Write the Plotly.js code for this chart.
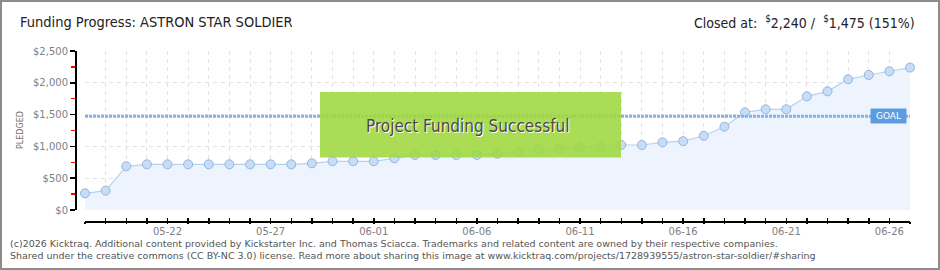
<!DOCTYPE html>
<html>
<head>
<meta charset="utf-8">
<script src="https://cdn.plot.ly/plotly-3.0.1.min.js"></script>
<style>
  html, body { margin: 0; padding: 0; background: #fff; }
  #wrap { position: relative; width: 940px; height: 270px; }
  #chart { width: 940px; height: 270px; }
  #frame { position: absolute; left: 0; top: 0; width: 940px; height: 270px; box-sizing: border-box; border: 2px solid #8c8c8c; pointer-events: none; }
</style>
</head>
<body>
<div id="wrap"><div id="chart"></div><div id="frame"></div></div>
<script>
// ---- data ----
const dates = [
  '2025-05-18','2025-05-19','2025-05-20','2025-05-21','2025-05-22','2025-05-23','2025-05-24',
  '2025-05-25','2025-05-26','2025-05-27','2025-05-28','2025-05-29','2025-05-30','2025-05-31',
  '2025-06-01','2025-06-02','2025-06-03','2025-06-04','2025-06-05','2025-06-06','2025-06-07',
  '2025-06-08','2025-06-09','2025-06-10','2025-06-11','2025-06-12','2025-06-13','2025-06-14',
  '2025-06-15','2025-06-16','2025-06-17','2025-06-18','2025-06-19','2025-06-20','2025-06-21',
  '2025-06-22','2025-06-23','2025-06-24','2025-06-25','2025-06-26','2025-06-27'
];
const pledged = [
  262, 304, 687, 718, 718, 718, 718,
  718, 718, 718, 718, 734, 766, 766,
  766, 813, 865, 865, 865, 865, 885,
  912, 954, 959, 990, 990, 1022, 1022,
  1064, 1082, 1168, 1310, 1536, 1583, 1583,
  1787, 1866, 2055, 2123, 2181, 2240
];
const goal = 1475;
const closedAt = 2240;
const projectName = 'ASTRON STAR SOLDIER';
const firstTick = '2025-05-22';
const yTickStep = 500;
const yMinorStep = 250;
const yMax = 2500;

// ---- layout helpers (pixel -> paper) ----
const W = 940, H = 270;
const M = { l: 75, r: 30, t: 51, b: 49 };
const PW = W - M.l - M.r, PH = H - M.t - M.b;
const px = x => (x - M.l) / PW;
const py = y => (H - M.b - y) / PH;

const DAY = 86400000;
const tickFont = { family: 'DejaVu Sans, Verdana, sans-serif', size: 10, color: '#808080' };
const gridCol = '#e2e2e2';
const headFont = 'DejaVu Sans Condensed, Liberation Sans Narrow, Roboto, sans-serif';

const pct = Math.floor(closedAt / goal * 100);
const fmt = v => v.toLocaleString('en-US');

const traces = [
  {
    x: dates, y: pledged, type: 'scatter', mode: 'lines+markers',
    fill: 'tozeroy', fillcolor: '#edf4fd',
    line: { color: '#b7d2f0', width: 1.2 },
    marker: { size: 9, color: '#c7ddf6', line: { color: '#94b5dc', width: 1 } },
    cliponaxis: false, hoverinfo: 'skip', showlegend: false
  },
  {
    x: [dates[0]], y: [null], xaxis: 'x2', yaxis: 'y', type: 'scatter', mode: 'markers',
    hoverinfo: 'skip', showlegend: false
  }
];

const xBase = {
  type: 'date', range: [dates[0], dates[dates.length - 1]],
  domain: [px(85), 1], anchor: 'free', position: 0,
  tick0: firstTick, dtick: 5 * DAY
};

const layout = {
  width: W, height: H,
  margin: M,
  paper_bgcolor: '#ffffff', plot_bgcolor: '#ffffff',
  showlegend: false,
  title: {
    text: 'Funding Progress: ' + projectName,
    x: 20 / W, xanchor: 'left', y: 1 - 22 / H, yanchor: 'middle',
    font: { family: headFont, size: 14.5, color: '#222' }
  },
  xaxis: Object.assign({}, xBase, {
    showline: true, linecolor: '#000', linewidth: 1.5,
    ticks: 'inside', ticklen: 3, tickwidth: 1.5, tickcolor: '#000',
    tickformat: '%m-%d', tickfont: tickFont,
    showgrid: true, gridcolor: gridCol, griddash: '4px,4px', gridwidth: 1,
    zeroline: false,
    minor: { dtick: DAY, tick0: dates[0], ticks: 'inside', ticklen: 3, tickwidth: 1.5, tickcolor: '#000',
             showgrid: true, gridcolor: gridCol, griddash: '4px,4px', gridwidth: 1 }
  }),
  xaxis2: Object.assign({}, xBase, {
    overlaying: 'x', showline: false, showgrid: false, zeroline: false,
    ticks: 'outside', ticklen: 2, tickwidth: 1.5, tickcolor: '#000', showticklabels: false,
    minor: { dtick: DAY, tick0: dates[0], ticks: 'outside', ticklen: 2, tickwidth: 1.5, tickcolor: '#000', showgrid: false }
  }),
  yaxis: {
    range: [0, yMax], domain: [py(210), 1], anchor: 'free', position: 0,
    showline: true, linecolor: '#000', linewidth: 1.5,
    ticks: 'outside', ticklen: 5, tickwidth: 1.5, tickcolor: '#000',
    dtick: yTickStep, tick0: 0, tickprefix: '$', tickformat: ',d',
    tickfont: tickFont,
    showgrid: true, gridcolor: gridCol, griddash: '4px,4px', gridwidth: 1,
    zeroline: false,
    minor: { dtick: yMinorStep, tick0: 0, ticks: 'outside', ticklen: 4, tickwidth: 1.5, tickcolor: '#ff0000', showgrid: false }
  },
  shapes: [
    { type: 'line', xref: 'x domain', yref: 'y', x0: 0, x1: 1, y0: goal, y1: goal,
      line: { color: '#80b3ea', width: 3, dash: '3px,1px' }, layer: 'above' },
    { type: 'rect', xref: 'paper', yref: 'paper', x0: px(320), x1: px(621), y0: py(157.5), y1: py(92),
      fillcolor: 'rgba(158,216,62,0.88)', line: { width: 0 }, layer: 'above' }
  ],
  annotations: [
    { xref: 'paper', yref: 'paper', x: px(917), y: py(22), xanchor: 'right', yanchor: 'middle', showarrow: false,
      text: 'Closed at:  <sup>$</sup>' + fmt(closedAt) + ' /  <sup>$</sup>' + fmt(goal) + ' (' + pct + '%)',
      font: { family: headFont, size: 14, color: '#222' } },
    { xref: 'paper', yref: 'paper', x: px(20), y: py(130), xanchor: 'center', yanchor: 'middle', showarrow: false,
      text: 'PLEDGED', textangle: -90,
      font: { family: 'DejaVu Sans, sans-serif', size: 8, color: '#707070' } },
    { xref: 'paper', yref: 'paper', x: px(468), y: py(126), xanchor: 'center', yanchor: 'middle', showarrow: false,
      text: 'Project Funding Successful',
      font: { family: headFont, size: 17, color: '#4a4a4a', shadow: '1px 1px 0px #ffffff' } },
    { xref: 'paper', yref: 'y', x: px(888.5), y: goal, xanchor: 'center', yanchor: 'middle', showarrow: false,
      text: 'GOAL', bgcolor: '#5c9ce0', borderpad: 2, width: 31, height: 10,
      font: { family: 'DejaVu Sans, sans-serif', size: 9, color: '#ffffff' } },
    { xref: 'paper', yref: 'paper', x: px(8), y: py(243), xanchor: 'left', yanchor: 'middle', showarrow: false,
      text: '(c)2026 Kicktraq. Additional content provided by Kickstarter Inc. and Thomas Sciacca. Trademarks and related content are owned by their respective companies.',
      font: { family: 'DejaVu Sans, Verdana, sans-serif', size: 9.5, color: '#555' } },
    { xref: 'paper', yref: 'paper', x: px(8), y: py(255), xanchor: 'left', yanchor: 'middle', showarrow: false,
      text: 'Shared under the creative commons (CC BY-NC 3.0) license. Read more about sharing this image at www.kicktraq.com/projects/1728939555/astron-star-soldier/#sharing',
      font: { family: 'DejaVu Sans, Verdana, sans-serif', size: 9.5, color: '#555' } }
  ]
};

Plotly.newPlot('chart', traces, layout, { displayModeBar: false, staticPlot: true });
</script>
</body>
</html>
